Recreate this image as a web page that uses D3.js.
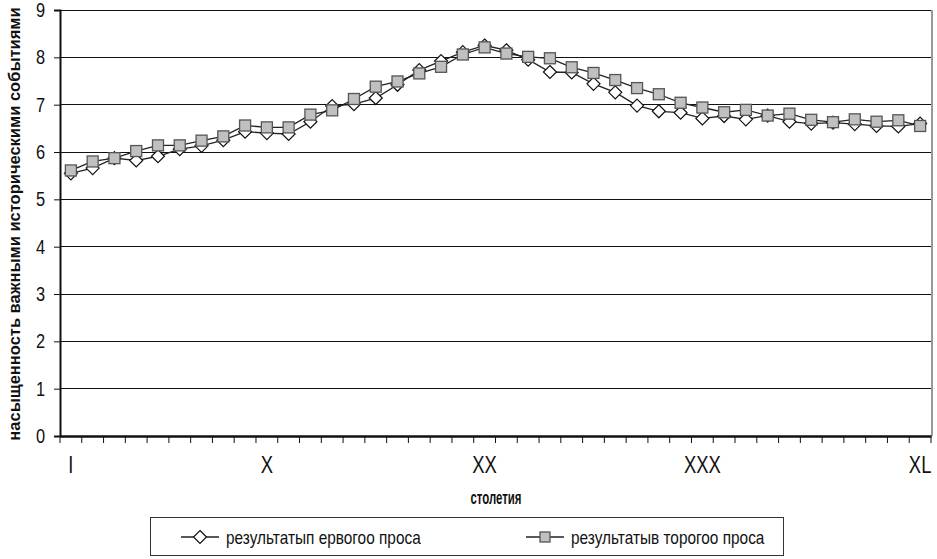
<!DOCTYPE html>
<html>
<head>
<meta charset="utf-8">
<script src="https://cdn.jsdelivr.net/npm/d3@7"></script>
<style>
  html, body { margin: 0; padding: 0; background: #fff; }
  svg { display: block; }
</style>
</head>
<body>
<svg id="chart" width="937" height="559"></svg>
<script>
const categories = ["I","II","III","IV","V","VI","VII","VIII","IX","X",
  "XI","XII","XIII","XIV","XV","XVI","XVII","XVIII","XIX","XX",
  "XXI","XXII","XXIII","XXIV","XXV","XXVI","XXVII","XXVIII","XXIX","XXX",
  "XXXI","XXXII","XXXIII","XXXIV","XXXV","XXXVI","XXXVII","XXXVIII","XXXIX","XL"];
const tickLabels = ["I","X","XX","XXX","XL"];
const yTicks = [0,1,2,3,4,5,6,7,8,9];

const seriesNames = ["результатып ервогоо проса", "результатыв торогоо проса"];
const series1 = [5.55, 5.66, 5.87, 5.82, 5.91, 6.06, 6.13, 6.25, 6.43, 6.40,
  6.38, 6.64, 6.97, 7.01, 7.14, 7.42, 7.73, 7.92, 8.11, 8.25,
  8.15, 7.95, 7.69, 7.68, 7.44, 7.26, 6.98, 6.86, 6.83, 6.71,
  6.76, 6.69, 6.77, 6.64, 6.60, 6.62, 6.59, 6.55, 6.54, 6.60];
const series2 = [5.61, 5.80, 5.87, 6.02, 6.14, 6.14, 6.24, 6.33, 6.56, 6.52,
  6.52, 6.79, 6.88, 7.12, 7.38, 7.49, 7.66, 7.80, 8.06, 8.21,
  8.08, 8.01, 7.98, 7.79, 7.67, 7.52, 7.35, 7.22, 7.04, 6.94,
  6.84, 6.89, 6.77, 6.81, 6.68, 6.63, 6.69, 6.64, 6.67, 6.55];

const yTitle = "насыщенность важными историческими событиями";
const xTitle = "столетия";

const FONT = '"Liberation Sans", Arial, sans-serif';
function condense(sel, factor) {
  sel.each(function () {
    const l = this.getComputedTextLength();
    this.setAttribute("textLength", (l * factor).toFixed(2));
    this.setAttribute("lengthAdjust", "spacingAndGlyphs");
  });
}

const svg = d3.select("#chart");
const L = 60, R = 931, T = 10, B = 436;

const x = d3.scaleBand().domain(categories).range([L, R]).paddingInner(0).paddingOuter(0);
const y = d3.scaleLinear().domain([0, 9]).range([B, T]);

// gridlines
svg.append("g").selectAll("line").data(yTicks.filter(d => d > 0)).join("line")
  .attr("x1", L).attr("x2", R).attr("y1", d => y(d)).attr("y2", d => y(d))
  .attr("stroke", "#111").attr("stroke-width", 1).attr("shape-rendering", "crispEdges");

// right border
svg.append("line").attr("x1", R + 1).attr("x2", R + 1).attr("y1", T).attr("y2", B)
  .attr("stroke", "#999").attr("stroke-width", 2);

// y axis
const yAxis = svg.append("g").attr("transform", `translate(${L},0)`)
  .call(d3.axisLeft(y).tickValues(yTicks).tickSize(6).tickPadding(9).tickFormat(d3.format("d")));
yAxis.select(".domain").attr("stroke", "#111").attr("stroke-width", 2);
yAxis.selectAll(".tick line").attr("stroke", "#111");
yAxis.selectAll("text").attr("font-size", 20).attr("fill", "#111").attr("font-family", FONT);
condense(yAxis.selectAll("text"), 0.82);

// x axis: boundary ticks
const boundaries = categories.map(c => x(c)).concat([x(categories[categories.length - 1]) + x.bandwidth()]);
svg.append("g").selectAll("line").data(boundaries).join("line")
  .attr("x1", d => d).attr("x2", d => d).attr("y1", B).attr("y2", B + 7)
  .attr("stroke", "#111").attr("stroke-width", 1);
const xAxis = svg.append("g").attr("transform", `translate(0,${B})`)
  .call(d3.axisBottom(x).tickValues(tickLabels).tickSize(0).tickPadding(21));
xAxis.select(".domain").attr("stroke", "#111").attr("stroke-width", 2.5);
xAxis.selectAll("text").attr("font-size", 23).attr("fill", "#111").attr("font-family", FONT);
condense(xAxis.selectAll("text"), 0.8);

// lines
const line = d3.line().x((d, i) => x(categories[i]) + x.bandwidth() / 2).y(d => y(d));
svg.append("path").datum(series1).attr("d", line).attr("fill", "none").attr("stroke", "#222").attr("stroke-width", 1.3);
svg.append("path").datum(series2).attr("d", line).attr("fill", "none").attr("stroke", "#222").attr("stroke-width", 1.3);

const diamond = (cx, cy, r) => `M${cx},${cy - r}L${cx + r},${cy}L${cx},${cy + r}L${cx - r},${cy}Z`;
svg.append("g").selectAll("path").data(series1).join("path")
  .attr("d", (d, i) => diamond(x(categories[i]) + x.bandwidth() / 2, y(d), 6.5))
  .attr("fill", "#fff").attr("stroke", "#111").attr("stroke-width", 1.2);
svg.append("g").selectAll("rect").data(series2).join("rect")
  .attr("x", (d, i) => x(categories[i]) + x.bandwidth() / 2 - 5.5)
  .attr("y", d => y(d) - 5.5).attr("width", 11).attr("height", 11)
  .attr("fill", "#c0c0c0").attr("stroke", "#555").attr("stroke-width", 1.3);

// titles
svg.append("text").attr("transform", `translate(20,${224}) rotate(-90)`)
  .attr("text-anchor", "middle").attr("font-family", FONT)
  .attr("font-weight", "bold").attr("font-size", 16.5).attr("fill", "#111").text(yTitle);
svg.append("text").attr("x", 496).attr("y", 504)
  .attr("text-anchor", "middle").attr("font-family", FONT)
  .attr("font-weight", "bold").attr("font-size", 18).attr("fill", "#111").text(xTitle)
  .attr("textLength", 51).attr("lengthAdjust", "spacingAndGlyphs");

// legend
const lg = svg.append("g");
lg.append("rect").attr("x", 150.5).attr("y", 517.5).attr("width", 633).attr("height", 38)
  .attr("fill", "#fff").attr("stroke", "#333").attr("stroke-width", 1);
const items = [{x: 181, name: seriesNames[0], type: "d"}, {x: 526, name: seriesNames[1], type: "s"}];
items.forEach(it => {
  const cy = 537;
  lg.append("line").attr("x1", it.x).attr("x2", it.x + 38).attr("y1", cy).attr("y2", cy)
    .attr("stroke", "#222").attr("stroke-width", 1.3);
  if (it.type === "d") {
    lg.append("path").attr("d", diamond(it.x + 19, cy, 6.5)).attr("fill", "#fff").attr("stroke", "#111").attr("stroke-width", 1.2);
  } else {
    lg.append("rect").attr("x", it.x + 14).attr("y", cy - 5).attr("width", 10).attr("height", 10)
      .attr("fill", "#c0c0c0").attr("stroke", "#555").attr("stroke-width", 1.3);
  }
  const t = lg.append("text").attr("x", it.x + 45).attr("y", cy + 7)
    .attr("font-family", FONT).attr("font-size", 19).attr("fill", "#111").text(it.name);
  condense(t, 0.81);
});
</script>
</body>
</html>
